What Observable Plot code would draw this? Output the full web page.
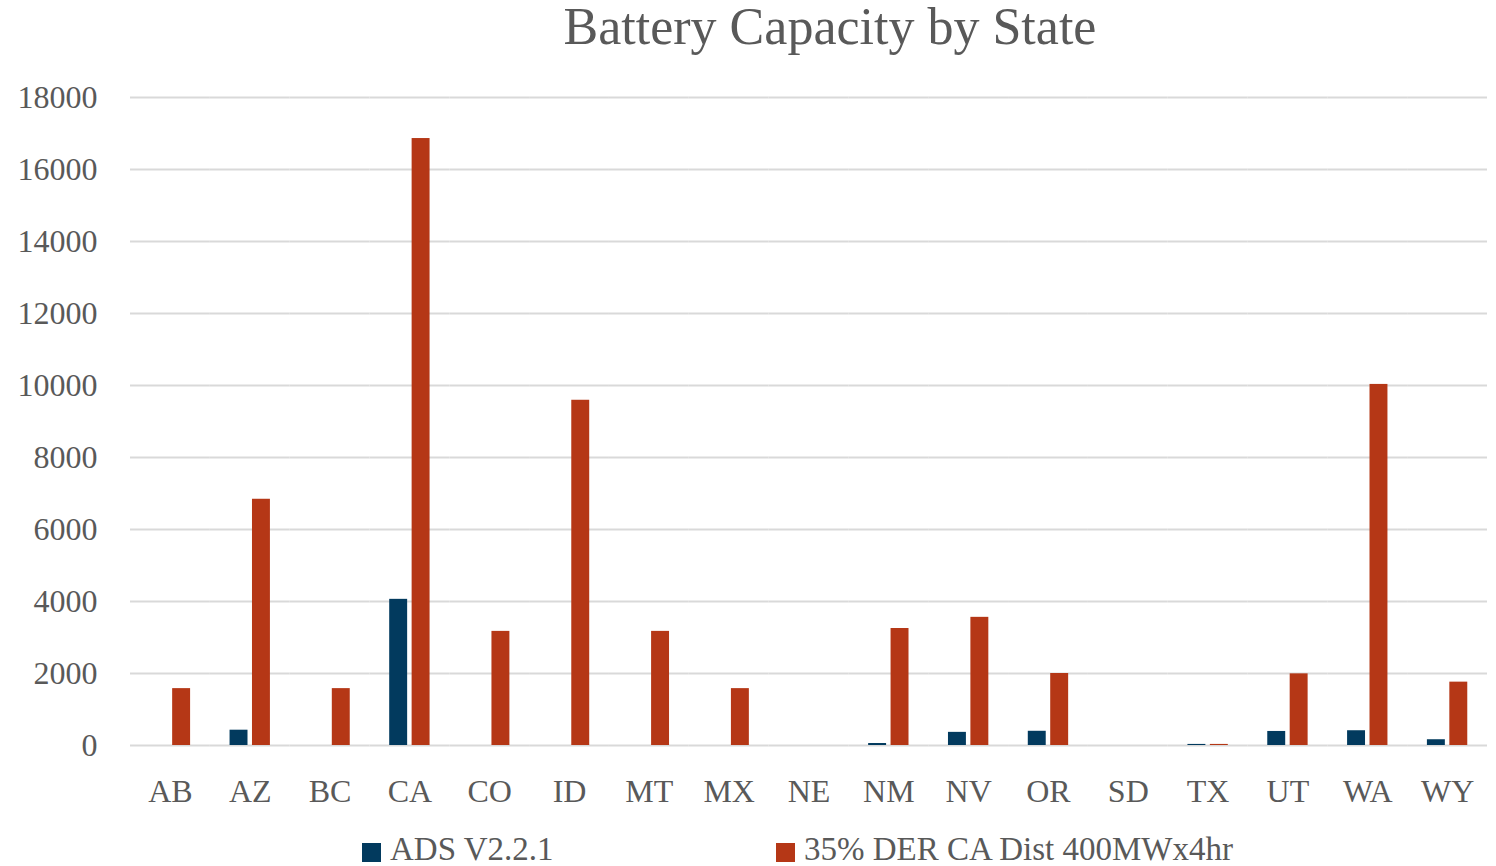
<!DOCTYPE html>
<html>
<head>
<meta charset="utf-8">
<script src="https://cdn.jsdelivr.net/npm/d3@7"></script>
<script src="https://cdn.jsdelivr.net/npm/@observablehq/plot@0.6"></script>
<style>
  body { margin: 0; background: #fff; font-family: "Liberation Serif", serif; color: #595959; }
  #title { height: 60px; line-height: 54px; font-size: 52px; text-align: center; padding-left: 164px; width: 1332px; white-space: nowrap; }
  #legend { position: relative; height: 51px; font-size: 33px; }
  .item { position: absolute; top: 16px; display: flex; align-items: center; white-space: nowrap; }
  .sw { width: 19px; height: 19px; margin-right: 9px; margin-top: 6px; }
</style>
</head>
<body>
<div id="title">Battery Capacity by State</div>
<div id="chart"></div>
<div id="legend"></div>
<script>
const states = ["AB","AZ","BC","CA","CO","ID","MT","MX","NE","NM","NV","OR","SD","TX","UT","WA","WY"];
const seriesNames = ["ADS V2.2.1", "35% DER CA Dist 400MWx4hr"];
const adsValues = [0, 425, 0, 4060, 0, 0, 0, 0, 0, 55, 365, 395, 0, 30, 390, 410, 160];
const derValues = [1580, 6840, 1580, 16860, 3170, 9590, 3170, 1580, 0, 3250, 3560, 2000, 0, 30, 1990, 10030, 1760];
const yTicks = [0, 2000, 4000, 6000, 8000, 10000, 12000, 14000, 16000, 18000];
const colors = ["#023a5e", "#b53716"];

const rows = [];
states.forEach((s, i) => {
  rows.push({state: s, series: seriesNames[0], value: adsValues[i]});
  rows.push({state: s, series: seriesNames[1], value: derValues[i]});
});

const chart = Plot.plot({
  width: 1496,
  height: 755,
  marginLeft: 130,
  marginRight: 9,
  marginTop: 37,
  marginBottom: 70,
  style: {fontFamily: "Liberation Serif, serif", fontSize: "32px", color: "#595959", background: "#fff"},
  fx: {domain: states, padding: 0, round: false, label: null},
  x: {domain: seriesNames, paddingInner: 0.2, paddingOuter: 0.88, round: false, axis: null},
  y: {domain: [0, 18000], label: null},
  color: {domain: seriesNames, range: colors},
  marks: [
    Plot.ruleY(yTicks, {stroke: "#d9d9d9", strokeWidth: 2}),
    Plot.barY(rows, {fx: "state", x: "series", y: "value", fill: "series"}),
    Plot.axisY(yTicks, {tickSize: 0, tickPadding: 33, label: null, tickFormat: d => String(d)}),
    Plot.axisFx({anchor: "bottom", tickSize: 0, tickPadding: 34, label: null})
  ]
});
document.getElementById("chart").appendChild(chart);

const legend = document.getElementById("legend");
const lefts = [362, 776];
seriesNames.forEach((n, i) => {
  const it = document.createElement("div");
  it.className = "item";
  it.style.left = lefts[i] + "px";
  it.innerHTML = `<div class="sw" style="background:${colors[i]}"></div><span>${n}</span>`;
  legend.appendChild(it);
});
</script>
</body>
</html>
